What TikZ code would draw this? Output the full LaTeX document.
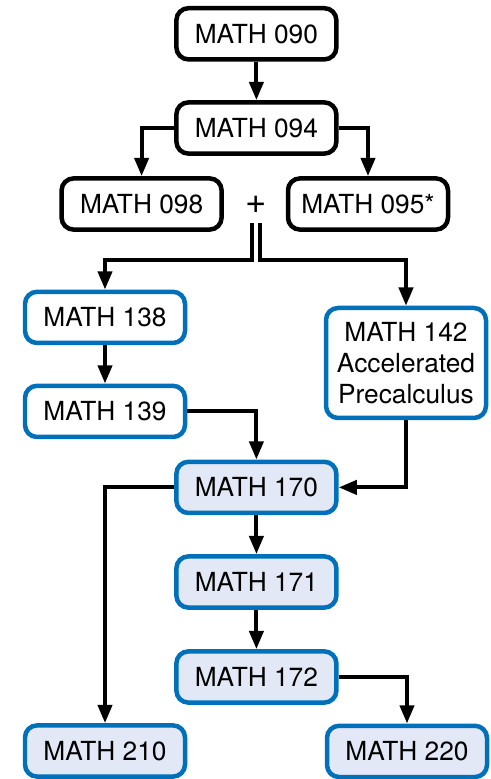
\documentclass[tikz,border=0pt]{standalone}
\usepackage{fontspec}
\setmainfont{TeX Gyre Heros}
\usetikzlibrary{arrows.meta,positioning,calc}
\definecolor{pathblue}{RGB}{0,112,187}
\definecolor{pathfill}{RGB}{226,232,245}

\begin{document}
\begin{tikzpicture}[>={Triangle[length=13pt,width=10pt]},
    box/.style={rectangle, rounded corners=0.3cm, draw=black, line width=3.2pt, fill=white, minimum width=4cm, minimum height=1.28cm, align=center, font=\fontsize{18.7}{22}\selectfont},
    cbox/.style={box, draw=pathblue},
    pbox/.style={box, draw=pathblue, fill=pathfill},
    arrow/.style={->, line width=2.8pt, black}]

    \useasboundingbox (0,0) rectangle (12.275,19.475);

    % Developmental
    \node[box] (m090) at (6.41,18.63) {MATH 090};
    \node[box] (m094) at (6.41,16.275) {MATH 094};
    \node[box] (m098) at (3.54,14.375) {MATH 098};
    \node[box] (m095) at (9.2,14.375) {MATH 095*};
    \node[font=\fontsize{26}{26}\selectfont, inner sep=0, minimum height=0.9cm] (plus) at (6.41,14.35) {+};
    \coordinate (split) at (6.41,12.975);

    \draw[arrow] (m090) -- (m094);
    \draw[arrow] (m094.west) -| (m098.north);
    \draw[arrow] (m094.east) -| (m095.north);

    % Precalculus
    \node[cbox] (m138) at (2.625,11.54) {MATH 138};
    \node[cbox] (m139) at (2.625,9.19) {MATH 139};
    \node[cbox, minimum height=2.75cm] (m142) at (10.15,10.4) {MATH 142\\Accelerated\\Precalculus};

    \draw[arrow] ([xshift=-0.1cm]plus.south) -- ([xshift=-0.1cm]split) -| (m138.north);
    \draw[arrow] ([xshift=0.1cm]plus.south) -- ([xshift=0.1cm]split) -| (m142.north);
    \draw[arrow] (m138) -- (m139);

    % Calculus
    \node[pbox] (m170) at (6.41,7.29) {MATH 170};
    \node[pbox] (m171) at (6.41,4.925) {MATH 171};
    \node[pbox] (m172) at (6.41,2.55) {MATH 172};
    \node[pbox] (m210) at (2.625,0.7) {MATH 210};
    \node[pbox] (m220) at (10.175,0.69) {MATH 220};

    \draw[arrow] (m139.east) -| (m170.north);
    \draw[arrow] (m142.south) |- (m170.east);
    \draw[arrow] (m170) -- (m171);
    \draw[arrow] (m171) -- (m172);
    \draw[arrow] (m170.west) -| (m210.north);
    \draw[arrow] (m172.east) -| (m220.north);

\end{tikzpicture}
\end{document}
